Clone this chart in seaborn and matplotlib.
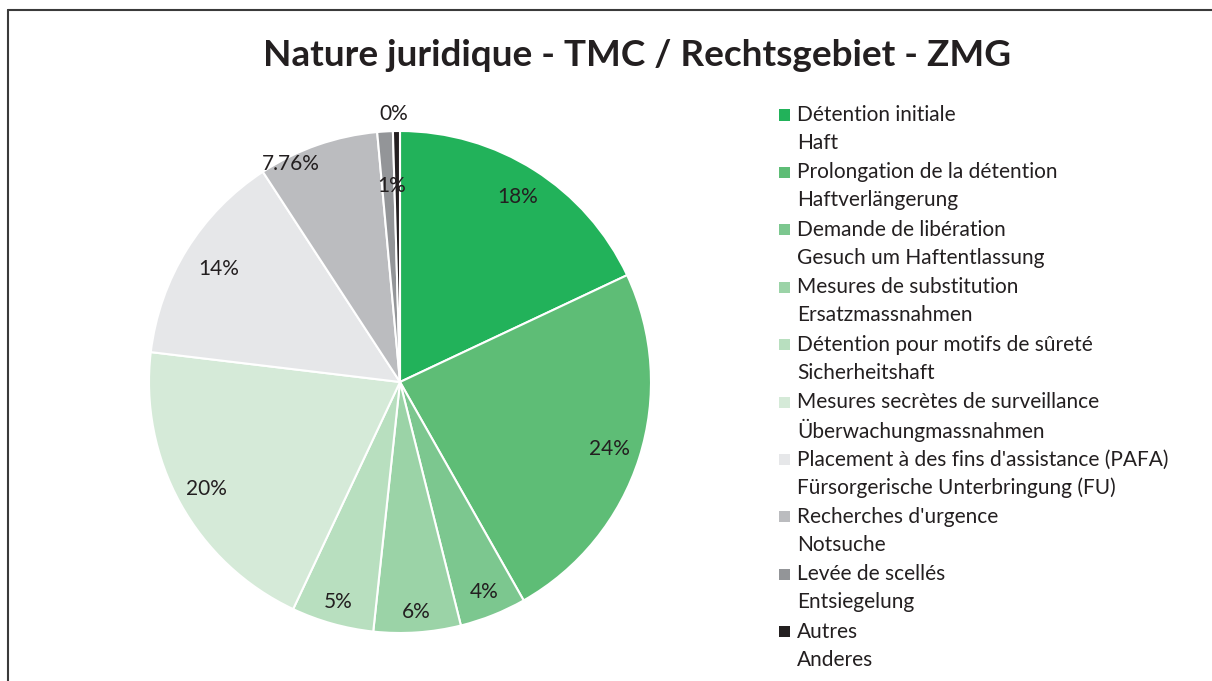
import numpy as np
import seaborn as sns
import matplotlib.pyplot as plt
from matplotlib.lines import Line2D
from matplotlib.patches import Rectangle

# Data
labels_fr = ['Détention initiale', 'Prolongation de la détention', 'Demande de libération',
             'Mesures de substitution', 'Détention pour motifs de sûreté',
             'Mesures secrètes de surveillance', "Placement à des fins d'assistance (PAFA)",
             "Recherches d'urgence", 'Levée de scellés', 'Autres']
labels_de = ['Haft', 'Haftverlängerung', 'Gesuch um Haftentlassung', 'Ersatzmassnahmen',
             'Sicherheitshaft', 'Überwachungmassnahmen', 'Fürsorgerische Unterbringung (FU)',
             'Notsuche', 'Entsiegelung', 'Anderes']
shares = [18, 23.8, 4.3, 5.6, 5.3, 19.9, 13.9, 7.75, 1, 0.45]
pct_text = ['18%', '24%', '4%', '6%', '5%', '20%', '14%', '7.76%', '1%', '0%']
colors = ['#22b25a', '#5ebd76', '#7cc78f', '#9bd3a7', '#b8dfbf', '#d5ead8',
          '#e6e7e9', '#bbbcbf', '#939598', '#231f20']

# label placement (radius fraction, angle shift in degrees)
lab_r = [0.875, 0.875, 0.90, 0.92, 0.91, 0.88, 0.85, 0.97, 0.78, 1.07]
lab_shift = [0, 0, 0, 0, 0, 0, 0, 7.5, -1, 0.5]

sns.set_theme(style='white')
plt.rcParams['font.family'] = ['Lato', 'DejaVu Sans']

W, H = 1212, 681
fig = plt.figure(figsize=(W / 100, H / 100), dpi=100)
fig.patch.set_facecolor('white')

# pie axes: center (400, 382) px, radius 251 px
cx, cy, rad = 400, 382, 251
ax = fig.add_axes([(cx - rad) / W, (H - cy - rad) / H, 2 * rad / W, 2 * rad / H])
wedges, _ = ax.pie(shares, colors=colors, startangle=90, counterclock=False,
                   wedgeprops=dict(edgecolor='white', linewidth=1.5))
ax.set_xlim(-1, 1)
ax.set_ylim(-1, 1)
ax.set_aspect('equal')
ax.axis('off')

for w, txt, r, s in zip(wedges, pct_text, lab_r, lab_shift):
    ang = np.deg2rad((w.theta1 + w.theta2) / 2 + s)
    ax.text(r * np.cos(ang), r * np.sin(ang), txt, ha='center', va='center',
            fontsize=15, color='#231f20', clip_on=False)

# title
fig.text(637 / W, 1 - 55 / H, 'Nature juridique - TMC / Rechtsgebiet - ZMG',
         ha='center', va='center', fontsize=26.6, fontweight='bold', color='#231f20')

# legend, two lines per entry
for i, (fr, de, c) in enumerate(zip(labels_fr, labels_de, colors)):
    y = 115 + 57.4 * i
    fig.add_artist(Rectangle((779 / W, 1 - (y + 5.5) / H), 11 / W, 11 / H,
                             transform=fig.transFigure, facecolor=c, edgecolor='none'))
    fig.text(797 / W, 1 - y / H, fr, ha='left', va='center', fontsize=15, color='#231f20')
    fig.text(797 / W, 1 - (y + 28) / H, de, ha='left', va='center', fontsize=15, color='#231f20')

# outer frame (only left and top edges visible)
fig.add_artist(Line2D([8 / W, 8 / W], [0, 1 - 10 / H], transform=fig.transFigure,
                      color='#3a3a3a', linewidth=1.5))
fig.add_artist(Line2D([8 / W, 1], [1 - 10 / H, 1 - 10 / H], transform=fig.transFigure,
                      color='#3a3a3a', linewidth=1.5))

fig.savefig('out.png', dpi=100)
